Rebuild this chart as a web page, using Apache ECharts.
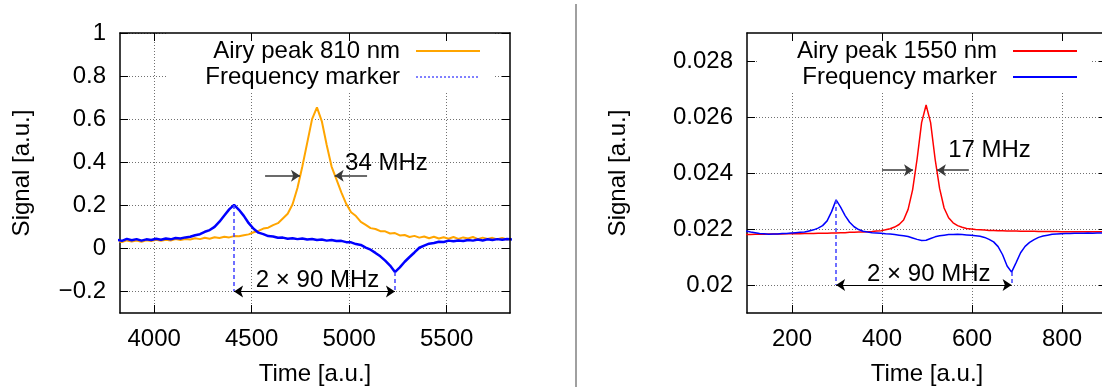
<!DOCTYPE html>
<html>
<head>
<meta charset="utf-8">
<script src="https://cdn.jsdelivr.net/npm/echarts@6/dist/echarts.min.js"></script>
<style>
  html, body { margin: 0; padding: 0; background: #fff; }
  #chart { width: 1102px; height: 387px; }
</style>
</head>
<body>
<div id="chart"></div>
<script>
// ---------- 810 nm scan (left panel) ----------
const t810Start = 3810;          // first sample time [a.u.]
const t810Step = 25;             // sample spacing [a.u.]
const airy810 = [
  0.034, 0.030, 0.037, 0.032, 0.036, 0.031, 0.038, 0.034, 0.040, 0.035,
  0.040, 0.037, 0.043, 0.039, 0.044, 0.041, 0.047, 0.043, 0.049, 0.045,
  0.052, 0.048, 0.054, 0.051, 0.057, 0.056, 0.061, 0.065, 0.075, 0.081,
  0.092, 0.096, 0.108, 0.117, 0.139, 0.161, 0.205, 0.280, 0.380, 0.490,
  0.600, 0.655, 0.590, 0.480, 0.380, 0.320, 0.260, 0.207, 0.168, 0.150,
  0.123, 0.109, 0.094, 0.090, 0.080, 0.079, 0.069, 0.071, 0.060, 0.062,
  0.053, 0.058, 0.050, 0.055, 0.047, 0.054, 0.046, 0.052, 0.045, 0.053,
  0.044, 0.051, 0.046, 0.053, 0.043, 0.050, 0.044, 0.049, 0.042, 0.048,
  0.041, 0.047
];
const marker810 = [
  0.040, 0.035, 0.044, 0.038, 0.043, 0.036, 0.042, 0.039, 0.045, 0.040,
  0.046, 0.042, 0.048, 0.046, 0.051, 0.054, 0.061, 0.066, 0.077, 0.085,
  0.100, 0.124, 0.153, 0.181, 0.202, 0.179, 0.151, 0.117, 0.091, 0.073,
  0.066, 0.057, 0.055, 0.049, 0.050, 0.045, 0.047, 0.043, 0.046, 0.041,
  0.044, 0.039, 0.041, 0.036, 0.039, 0.034, 0.035, 0.029, 0.028, 0.020,
  0.016, 0.004, -0.006, -0.021, -0.037, -0.057, -0.080, -0.110, -0.088, -0.062,
  -0.040, -0.019, 0.003, 0.013, 0.022, 0.025, 0.031, 0.030, 0.036, 0.033,
  0.037, 0.034, 0.039, 0.036, 0.041, 0.037, 0.042, 0.039, 0.043, 0.040,
  0.044, 0.041
];
const xRange810 = [3825, 5825];
const yRange810 = [-0.3, 1];
const xTicks810 = [4000, 4500, 5000, 5500];
const yTicks810 = [-0.2, 0, 0.2, 0.4, 0.6, 0.8, 1];
const fwhmLevel810 = 0.337;            // half-maximum height
const fwhmTips810 = [4748, 4926];      // arrow heads touch the peak flanks
const fwhmTails810 = [4569, 5092];
const fwhmText810 = [4979, 0.395];
const spanLevel810 = -0.2;
const spanText810 = [4838, -0.148];

// ---------- 1550 nm scan (right panel) ----------
const t1550Start = 98;
const t1550Step = 10;
const airy1550 = [
  0.02180, 0.02180, 0.02181, 0.02181, 0.02181, 0.02182, 0.02182, 0.02182, 0.02182, 0.02183,
  0.02183, 0.02183, 0.02183, 0.02184, 0.02184, 0.02184, 0.02185, 0.02185, 0.02185, 0.02186,
  0.02186, 0.02187, 0.02187, 0.02188, 0.02188, 0.02189, 0.02189, 0.02190, 0.02191, 0.02193,
  0.02194, 0.02197, 0.02201, 0.02207, 0.02216, 0.02232, 0.02270, 0.02340, 0.02450, 0.02580,
  0.02643, 0.02580, 0.02450, 0.02345, 0.02275, 0.02240, 0.02222, 0.02212, 0.02206, 0.02202,
  0.02200, 0.02198, 0.02197, 0.02196, 0.02195, 0.02195, 0.02194, 0.02194, 0.02193, 0.02193,
  0.02193, 0.02192, 0.02192, 0.02192, 0.02192, 0.02191, 0.02191, 0.02191, 0.02191, 0.02191,
  0.02190, 0.02190, 0.02190, 0.02190, 0.02190, 0.02190, 0.02190, 0.02190, 0.02190, 0.02190,
  0.02190, 0.02190
];
const marker1550 = [
  0.02193, 0.02189, 0.02187, 0.02184, 0.02183, 0.02181, 0.02182, 0.02182, 0.02184, 0.02184,
  0.02186, 0.02187, 0.02188, 0.02189, 0.02193, 0.02197, 0.02203, 0.02212, 0.02229, 0.02262,
  0.02304, 0.02278, 0.02248, 0.02224, 0.02208, 0.02198, 0.02192, 0.02189, 0.02187, 0.02186,
  0.02185, 0.02183, 0.02182, 0.02180, 0.02178, 0.02176, 0.02173, 0.02168, 0.02163, 0.02159,
  0.02160, 0.02166, 0.02172, 0.02176, 0.02178, 0.02180, 0.02180, 0.02181, 0.02180, 0.02179,
  0.02178, 0.02176, 0.02174, 0.02170, 0.02163, 0.02154, 0.02137, 0.02108, 0.02068, 0.02046,
  0.02080, 0.02115, 0.02138, 0.02152, 0.02162, 0.02170, 0.02175, 0.02178, 0.02181, 0.02182,
  0.02183, 0.02184, 0.02184, 0.02185, 0.02185, 0.02185, 0.02186, 0.02185, 0.02186, 0.02186,
  0.02185, 0.02186
];
const xRange1550 = [100, 900];
const yRange1550 = [0.019, 0.029];
const xTicks1550 = [200, 400, 600, 800];
const yTicks1550 = [0.02, 0.022, 0.024, 0.026, 0.028];
const fwhmLevel1550 = 0.0241;
const fwhmTips1550 = [469, 522];
const fwhmTails1550 = [400, 593];
const fwhmText1550 = [547, 0.0248];
const spanLevel1550 = 0.02;
const spanText1550 = [504, 0.02038];

// ---------- styling ----------
const FONT = '"Liberation Sans", Arial, Helvetica, sans-serif';
const TXT = { fontFamily: FONT, fontSize: 24, color: '#000' };
const ORANGE = '#ffa500', BLUE = '#0000ff', RED = '#ff0000', MARKER = '#4040ff';

const pairs = (start, step, ys) => ys.map((v, i) => [start + i * step, v]);

function axesFor(g, xr, yr, xt, yt, yFmt, yNameGap) {
  const border = { show: true, onZero: false, lineStyle: { color: '#000', width: 1.5 } };
  const tick = vals => ({ show: true, inside: true, length: 8, customValues: vals,
                          lineStyle: { color: '#000', width: 1 } });
  const grid = { show: true, lineStyle: { type: [1, 2], color: '#707070', width: 1 } };
  return {
    x: [
      { type: 'value', gridIndex: g, position: 'bottom', min: xr[0], max: xr[1],
        axisLine: border, axisTick: tick(xt),
        axisLabel: Object.assign({ customValues: xt, margin: 14, formatter: v => String(v) }, TXT),
        splitLine: grid,
        name: 'Time [a.u.]', nameLocation: 'middle', nameGap: 49, nameTextStyle: TXT },
      { type: 'value', gridIndex: g, position: 'top', min: xr[0], max: xr[1], z: 10,
        axisLine: border, axisTick: tick(xt), axisLabel: { show: false }, splitLine: { show: false } }
    ],
    y: [
      { type: 'value', gridIndex: g, position: 'left', min: yr[0], max: yr[1],
        axisLine: border, axisTick: tick(yt),
        axisLabel: Object.assign({ customValues: yt, margin: 14, formatter: yFmt }, TXT),
        splitLine: grid,
        name: 'Signal [a.u.]', nameLocation: 'middle', nameGap: yNameGap, nameTextStyle: TXT },
      { type: 'value', gridIndex: g, position: 'right', min: yr[0], max: yr[1], z: 10,
        axisLine: border, axisTick: tick(yt), axisLabel: { show: false }, splitLine: { show: false } }
    ]
  };
}

const fmt810 = v => (v < 0 ? '\u2212' + String(-v) : String(v));
const fmt1550 = v => String(v);
const A0 = axesFor(0, xRange810, yRange810, xTicks810, yTicks810, fmt810, 86);
const A1 = axesFor(1, xRange1550, yRange1550, xTicks1550, yTicks1550, fmt1550, 117);

// Guide lines: dashed drops from the marker extrema, the span arrow between them,
// and the pair of arrows pointing at the flanks of the cavity peak.
function guides(t0, step, marker, spanLevel, fwhmLevel, tips, tails) {
  const iMax = marker.indexOf(Math.max(...marker));
  const iMin = marker.indexOf(Math.min(...marker));
  const tMax = t0 + iMax * step, tMin = t0 + iMin * step;
  const drop = { color: MARKER, width: 1.5, type: [4, 3] };
  const thin = { color: '#000', width: 1, type: 'solid' };
  const grey = { color: '#3a3a3a', width: 1.5, type: 'solid' };
  return {
    silent: true, animation: false, label: { show: false }, symbolSize: 9,
    emphasis: { disabled: true },
    data: [
      [{ coord: [tMax, marker[iMax]], symbol: 'none', lineStyle: drop }, { coord: [tMax, spanLevel], symbol: 'none' }],
      [{ coord: [tMin, marker[iMin]], symbol: 'none', lineStyle: drop }, { coord: [tMin, spanLevel], symbol: 'none' }],
      [{ coord: [tMax, spanLevel], symbol: 'arrow', lineStyle: thin }, { coord: [tMin, spanLevel], symbol: 'arrow' }],
      [{ coord: [tails[0], fwhmLevel], symbol: 'none', lineStyle: grey }, { coord: [tips[0], fwhmLevel], symbol: 'arrow' }],
      [{ coord: [tails[1], fwhmLevel], symbol: 'none', lineStyle: grey }, { coord: [tips[1], fwhmLevel], symbol: 'arrow' }]
    ]
  };
}

function notes(xi, yi, items) {
  return {
    type: 'scatter', xAxisIndex: xi, yAxisIndex: yi, symbolSize: 0, silent: true, z: 6,
    animation: false, itemStyle: { opacity: 1 },
    emphasis: { disabled: true },
    data: items.map(([pos, text, where]) => ({
      value: pos,
      label: Object.assign({ show: true, formatter: text, position: where, distance: 0, opacity: 1 }, TXT)
    }))
  };
}

function legendFor(rightPx, items) {
  return {
    orient: 'vertical', align: 'right', right: rightPx, top: 33,
    itemWidth: 64, itemHeight: 26, itemGap: 2,
    padding: [6, 14, 2, 38], backgroundColor: '#fff',
    selectedMode: false, itemStyle: { opacity: 0 },
    textStyle: Object.assign({ padding: [0, 11, 0, 0] }, TXT),
    data: items
  };
}

const option = {
  animation: false,
  backgroundColor: '#fff',
  grid: [
    { left: 120, top: 33, width: 390, height: 280, outerBoundsMode: 'none', containLabel: false },
    { left: 747, top: 33, width: 360, height: 280, outerBoundsMode: 'none', containLabel: false }
  ],
  xAxis: A0.x.concat(A1.x),
  yAxis: A0.y.concat(A1.y),
  legend: [
    legendFor(607, [
      { name: 'Airy peak 810 nm', lineStyle: { color: ORANGE, width: 2, type: 'solid', opacity: 1 } },
      { name: 'Frequency marker', lineStyle: { color: BLUE, width: 1, type: [2, 2], opacity: 1 } }
    ]),
    legendFor(10, [
      { name: 'Airy peak 1550 nm', lineStyle: { color: RED, width: 2, type: 'solid', opacity: 1 } },
      { name: 'Frequency marker', lineStyle: { color: BLUE, width: 2, type: 'solid', opacity: 1 } }
    ])
  ],
  series: [
    { name: 'Airy peak 810 nm', type: 'line', xAxisIndex: 0, yAxisIndex: 0, symbol: 'none',
      lineStyle: { color: ORANGE, width: 2 }, itemStyle: { color: ORANGE },
      data: pairs(t810Start, t810Step, airy810) },
    { name: 'Frequency marker', type: 'line', xAxisIndex: 0, yAxisIndex: 0, symbol: 'none',
      lineStyle: { color: BLUE, width: 2.5 }, itemStyle: { color: BLUE },
      data: pairs(t810Start, t810Step, marker810),
      markLine: guides(t810Start, t810Step, marker810, spanLevel810, fwhmLevel810, fwhmTips810, fwhmTails810) },
    notes(0, 0, [
      [fwhmText810, '34 MHz', 'right'],
      [spanText810, '2 \u00d7 90 MHz', 'inside']
    ]),
    { name: 'Airy peak 1550 nm', type: 'line', xAxisIndex: 2, yAxisIndex: 2, symbol: 'none',
      lineStyle: { color: RED, width: 1.5 }, itemStyle: { color: RED },
      data: pairs(t1550Start, t1550Step, airy1550) },
    { name: 'Frequency marker', type: 'line', xAxisIndex: 2, yAxisIndex: 2, symbol: 'none',
      lineStyle: { color: BLUE, width: 1.5 }, itemStyle: { color: BLUE },
      data: pairs(t1550Start, t1550Step, marker1550),
      markLine: guides(t1550Start, t1550Step, marker1550, spanLevel1550, fwhmLevel1550, fwhmTips1550, fwhmTails1550) },
    notes(2, 2, [
      [fwhmText1550, '17 MHz', 'right'],
      [spanText1550, '2 \u00d7 90 MHz', 'inside']
    ])
  ],
  graphic: [
    { type: 'line', silent: true, z: 100,
      shape: { x1: 576, y1: 4, x2: 576, y2: 387 },
      style: { stroke: '#808080', lineWidth: 1.5 } }
  ]
};

const chart = echarts.init(document.getElementById('chart'), null, { renderer: 'canvas' });
chart.setOption(option);
</script>
</body>
</html>
